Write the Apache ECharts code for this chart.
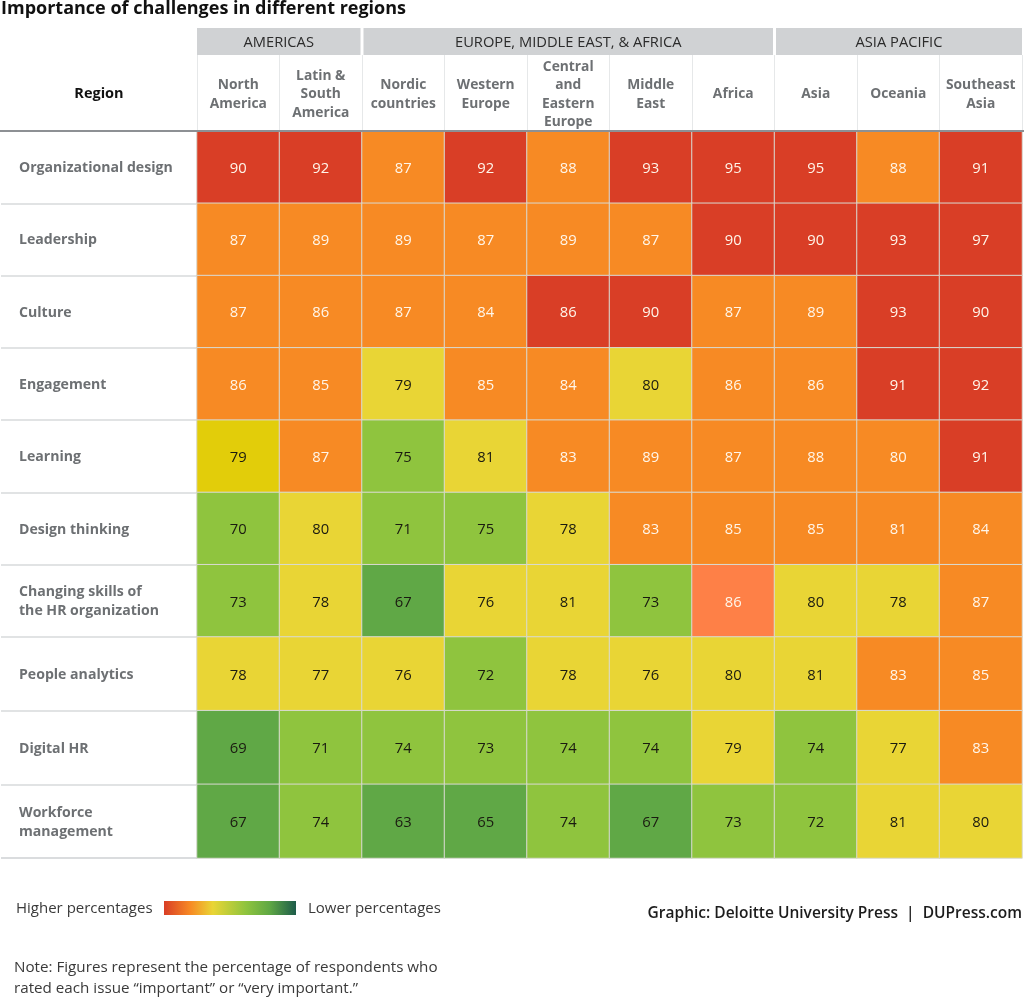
<!DOCTYPE html>
<html><head><meta charset="utf-8">
<style>html,body{margin:0;padding:0;background:#fff}#c{width:1024px;height:997px}</style>
<script src="https://cdn.jsdelivr.net/npm/echarts@6/dist/echarts.min.js"></script>
</head><body><div id="c"></div>
<script>
const titleText = "Importance of challenges in different regions";
const regions = ["North\nAmerica","Latin &\nSouth\nAmerica","Nordic\ncountries","Western\nEurope","Central\nand\nEastern\nEurope","Middle\nEast","Africa","Asia","Oceania","Southeast\nAsia"];
const groupNames = ["AMERICAS","EUROPE, MIDDLE EAST, & AFRICA","ASIA PACIFIC"];
const groupSpans = [2,5,3];
const challenges = ["Organizational design","Leadership","Culture","Engagement","Learning","Design thinking","Changing skills of\nthe HR organization","People analytics","Digital HR","Workforce\nmanagement"];
const organizationalDesign = [90,92,87,92,88,93,95,95,88,91];
const leadership = [87,89,89,87,89,87,90,90,93,97];
const culture = [87,86,87,84,86,90,87,89,93,90];
const engagement = [86,85,79,85,84,80,86,86,91,92];
const learning = [79,87,75,81,83,89,87,88,80,91];
const designThinking = [70,80,71,75,78,83,85,85,81,84];
const changingSkills = [73,78,67,76,81,73,86,80,78,87];
const peopleAnalytics = [78,77,76,72,78,76,80,81,83,85];
const digitalHR = [69,71,74,73,74,74,79,74,77,83];
const workforce = [67,74,63,65,74,67,73,72,81,80];
const rows = [organizationalDesign,leadership,culture,engagement,learning,designThinking,changingSkills,peopleAnalytics,digitalHR,workforce];
const RED='#d93e26', ORANGE='#f78a24', YELLOW='#e9d535', LIME='#8fc43e', GREEN='#60a846';
// cells whose colour in the picture departs from the value bands: [row, col, colour, text colour]
const colourExceptions = [[2,4,RED,'#fff6ea'],[4,8,ORANGE,'#fff6ea'],[5,8,ORANGE,'#fff6ea'],[6,6,'#fe8047','#fff6ea'],[4,0,'#e2cd0a','#1a1a10']];

const font = '"Open Sans","Noto Sans",sans-serif';
const L=197, W=825, T1=131, H1=506, T2=637, H2=221, SPLIT=7;
function band(v){ return v>=90?RED : v>=83?ORANGE : v>=76?YELLOW : v>=70?LIME : GREEN; }
function cellsFor(from,to){
  const out=[];
  for(let r=from;r<to;r++) rows[r].forEach((v,c)=>{
    const ex=colourExceptions.find(e=>e[0]===r&&e[1]===c);
    out.push({value:[c,r-from,v],
      itemStyle:{color:ex?ex[2]:band(v)},
      label:{color:ex?ex[3]:(v>=83?'#fff6ea':'#1a1a10')}});
  });
  return out;
}
const colW=W/regions.length;
const graphics=[];
let start=0;
groupSpans.forEach((n,i)=>{
  const x=L+start*colW+(i?1.5:0), w=n*colW-(i?1.5:0)-(i<groupSpans.length-1?1.5:0);
  graphics.push({type:'rect',shape:{x,y:28,width:w,height:27},style:{fill:'#d0d2d4'},silent:true});
  graphics.push({type:'text',x:x+w/2,y:43,style:{text:groupNames[i],font:'14.7px '+font,fill:'#2b2b2b',textAlign:'center',textVerticalAlign:'middle'},silent:true});
  start+=n;
});
function txt(text,x,y,o){graphics.push({type:'text',x,y,style:Object.assign({text,font:'15px '+font,fill:'#3a3a3a',textVerticalAlign:'middle'},o||{}),silent:true});}
txt('Region',99,94,{font:'bold 14.5px '+font,fill:'#111',textAlign:'center'});
graphics.push({type:'line',shape:{x1:0,y1:131,x2:1024,y2:131},style:{stroke:'#8d9094',lineWidth:2},z:20,silent:true});
graphics.push({type:'line',shape:{x1:1,y1:858,x2:197,y2:858},style:{stroke:'#d8dadb',lineWidth:1.5},silent:true});
txt('Higher percentages',16,909);
graphics.push({type:'rect',shape:{x:164,y:901,width:132,height:14},silent:true,style:{fill:new echarts.graphic.LinearGradient(0,0,1,0,[
 {offset:0,color:RED},{offset:.2,color:ORANGE},{offset:.37,color:YELLOW},{offset:.62,color:LIME},{offset:.8,color:'#5fa844'},{offset:1,color:'#1d5c4a'}])}});
txt('Lower percentages',308,909);
txt('Graphic: Deloitte University Press  |  DUPress.com',1022,914,{textAlign:'right',font:'600 15.5px '+font,fill:'#1c1c1c'});
txt('Note: Figures represent the percentage of respondents who',14,968,{font:'15.2px '+font});
txt('rated each issue \u201cimportant\u201d or \u201cvery important.\u201d',14,989,{font:'15.2px '+font});

const yLabel={interval:0,align:'left',margin:178,lineHeight:19,verticalAlign:'middle',fontFamily:font,fontSize:14.1,fontWeight:'bold',color:'#6d7073',
  formatter:v=>v.split('\n').map(s=>'{t|'+s+'}').join('\n'),
  rich:{t:{fontFamily:font,fontSize:14.1,fontWeight:'bold',color:'#6d7073',lineHeight:19,padding:[2,0,0,0]}}};
const yTick={show:true,length:196,lineStyle:{color:'#d8dadb',width:1.5}};
const heat=(xi,yi,data)=>({type:'heatmap',xAxisIndex:xi,yAxisIndex:yi,data,
    label:{show:true,fontFamily:font,fontSize:14.8,offset:[0,1.5],formatter:p=>p.value[2]},
    itemStyle:{borderColor:'#d9dad2',borderWidth:1},
    emphasis:{disabled:true}});
const chart=echarts.init(document.getElementById('c'),null,{renderer:'canvas'});
chart.setOption({
  animation:false,
  backgroundColor:'#fff',
  textStyle:{fontFamily:font},
  title:{text:titleText,left:0,top:0,padding:[0,0,0,1],textStyle:{fontFamily:font,fontSize:18,fontWeight:'bold',color:'#111'}},
  grid:[{left:L,top:T1,width:W,height:H1},{left:L,top:T2,width:W,height:H2}],
  xAxis:[{type:'category',gridIndex:0,position:'top',data:regions,
    axisLine:{show:false},
    axisTick:{show:true,length:76,lineStyle:{color:'#e6e8e9',width:1}},
    axisLabel:{interval:0,margin:36.5,verticalAlign:'middle',lineHeight:18.3,fontFamily:font,fontSize:13.8,fontWeight:'bold',color:'#6d7073'},
    splitLine:{show:false}},
   {type:'category',gridIndex:1,data:regions,show:false}],
  yAxis:[{type:'category',gridIndex:0,inverse:true,data:challenges.slice(0,SPLIT),axisLine:{show:false},axisTick:yTick,axisLabel:yLabel,splitLine:{show:false}},
   {type:'category',gridIndex:1,inverse:true,data:challenges.slice(SPLIT),axisLine:{show:false},axisTick:yTick,axisLabel:yLabel,splitLine:{show:false}}],
  series:[heat(0,0,cellsFor(0,SPLIT)),heat(1,1,cellsFor(SPLIT,rows.length))],
  graphic:graphics
});
</script></body></html>
